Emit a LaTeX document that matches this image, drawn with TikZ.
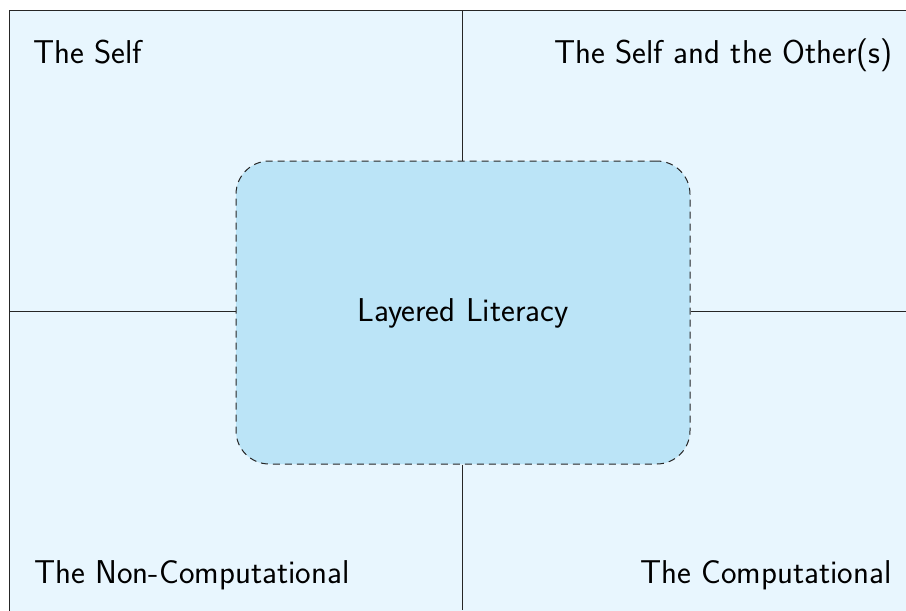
\documentclass[tikz,border=0pt]{standalone}
\usepackage{fontspec}
\begin{document}
\begin{tikzpicture}[x=0.6pt,y=-0.6pt,
  quadline/.style={draw=black!85,line width=0.55pt},
  corelayer/.style={draw=black!85,line width=0.6pt,dash pattern=on 4.2pt off 3pt,
    fill={rgb,255:red,187;green,228;blue,247},rounded corners=20pt,
    minimum width=454*0.6pt,minimum height=303*0.6pt,inner sep=0pt},
  label/.style={font=\sffamily\fontsize{19.8}{23}\selectfont,inner sep=0pt}]
  \useasboundingbox (0,0) rectangle (906,610);
  \begin{scope}
    \clip (0,0) rectangle (906,610);
    \path[fill={rgb,255:red,232;green,246;blue,254},draw=black!85,line width=0.55pt]
      (9,10) rectangle (915,612);
  \end{scope}
  % central layer
  \node[corelayer] (core) at (463,312.5) {};
  \node[label,anchor=base] (title) at (463,321) {Layered Literacy};
  % quadrant dividers
  \coordinate (top) at (462,10);
  \coordinate (bottom) at (462,610);
  \coordinate (left) at (9,311);
  \coordinate (right) at (906,311);
  \draw[quadline] (top) -- (top |- core.north);
  \draw[quadline] (core.south -| bottom) -- (bottom);
  \draw[quadline] (left) -- (core.west |- left);
  \draw[quadline] (core.east |- right) -- (right);
  % quadrant labels
  \node[label,anchor=base west] (self) at (33,63) {The Self};
  \node[label,anchor=base east] (others) at (893,63) {The Self and the Other(s)};
  \node[label,anchor=base west] (noncomp) at (34,583) {The Non-Computational};
  \node[label,anchor=base east] (comp) at (892,583) {The Computational};
\end{tikzpicture}
\end{document}
